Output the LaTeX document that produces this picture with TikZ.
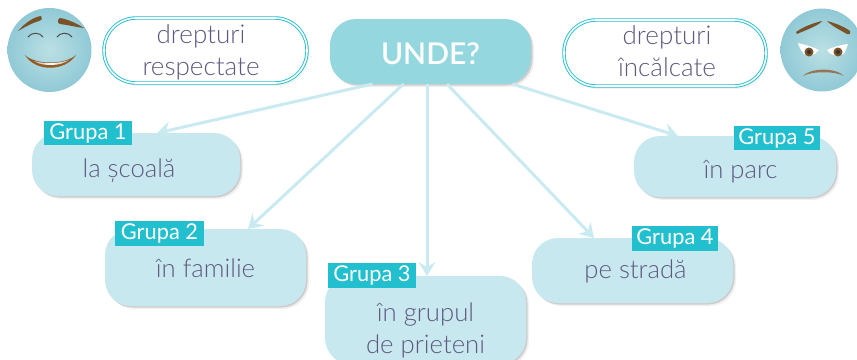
\documentclass[tikz,border=0pt]{standalone}
\usepackage{fontspec}
\setmainfont{Lato}[UprightFont=* Light,BoldFont=* Semibold]
\newfontfamily\tagfont{Lato}
\usetikzlibrary{arrows.meta,shadows,calc}
\definecolor{boxblue}{HTML}{C8E8EF}
\definecolor{hubblue}{HTML}{95D7DF}
\definecolor{tagteal}{HTML}{22BFCF}
\definecolor{inktext}{HTML}{5F5980}
\definecolor{linkblue}{HTML}{C8EAF0}
\definecolor{browbrown}{HTML}{7A5228}
\definecolor{faceout}{HTML}{90C9D6}
\definecolor{facein}{HTML}{BBE0E4}
\newcommand{\mv}[3][0]{\hspace*{#1pt}\raisebox{\dimexpr-#2pt\relax}[0pt][0pt]{\begin{tabular}{@{}c@{}}#3\end{tabular}}}
\newcommand{\tg}[1]{\raisebox{-3pt}{#1}}
\tikzset{
  softshadow/.style={
    general shadow={shadow xshift=3pt,shadow yshift=-3pt,fill=black,opacity=.06},
    general shadow={shadow xshift=1.5pt,shadow yshift=-1.5pt,fill=black,opacity=.14}},
  lightshadow/.style={
    general shadow={shadow xshift=2pt,shadow yshift=-3pt,fill=black,opacity=.05}},
  groupbox/.style={softshadow,fill=boxblue,rounded corners=26pt,inner sep=0pt,outer sep=0pt,
    text=inktext,font=\fontsize{25.7}{32}\selectfont},
  framebox/.style={lightshadow,fill=white,draw=tagteal,double=white,double distance=1.6pt,line width=.9pt,
    rounded corners=32pt,inner sep=0pt,outer sep=0pt,text=inktext,font=\fontsize{26}{31.5}\selectfont},
  hubbox/.style={softshadow,fill=hubblue,rounded corners=26pt,inner sep=0pt,outer sep=0pt,
    text=white,font=\fontsize{30}{32}\selectfont\bfseries},
  grouptag/.style={fill=tagteal,text=white,inner sep=0pt,outer sep=0pt,font=\tagfont\fontsize{21.8}{24}\selectfont},
  linkline/.style={draw=linkblue,line width=3pt,-{Stealth[length=14pt,width=17pt,inset=5pt]}},
  brow/.style={fill=browbrown,draw=none},
  lidline/.style={draw=black!70,line width=1pt,line cap=round}
}
\begin{document}
\begin{tikzpicture}[x=1pt,y=-1pt]
\useasboundingbox (0,0) rectangle (857,359);
% boxes
\node[hubbox,minimum width=201pt,minimum height=65pt] (hub) at (430.5,51.5) {\mv{12.5}{UNDE?}};
\node[framebox,minimum width=203pt,minimum height=65pt] (left) at (205.5,50.5) {\mv[-9]{9}{drepturi\\respectate}};
\node[framebox,minimum width=202pt,minimum height=66pt] (right) at (665,53) {\mv[4]{7.5}{drepturi\\încălcate}};
\node[groupbox,minimum width=208pt,minimum height=63pt] (g1) at (136,164.5) {\mv[-14]{13}{la școală}};
\node[groupbox,minimum width=201pt,minimum height=77pt] (g2) at (205.5,267.5) {\mv{10}{în familie}};
\node[groupbox,minimum width=201pt,minimum height=88pt] (g3) at (425.5,320) {\mv{17}{în grupul\\de prieteni}};
\node[groupbox,minimum width=201pt,minimum height=65pt] (g4) at (632.5,270.5) {\mv[6]{8}{pe stradă}};
\node[groupbox,minimum width=202pt,minimum height=61pt] (g5) at (735,166.5) {\mv[11]{12}{în parc}};
% connectors
\draw[linkline] ([xshift=-58pt]hub.south) -- ([xshift=21pt]g1.north);
\draw[linkline] ([xshift=-27pt]hub.south) -- ([xshift=42.5pt]g2.north);
\draw[linkline] ([xshift=-3.5pt]hub.south) -- ([xshift=1.5pt]g3.north);
\draw[linkline] ([xshift=16.5pt]hub.south) -- ([xshift=-38.5pt]g4.north);
\draw[linkline] ([xshift=82pt]hub.south) -- ([xshift=-57pt]g5.north);
% tags
\node[grouptag,minimum width=88pt,minimum height=24pt] (t1) at (88,133) {\tg{Grupa 1}};
\node[grouptag,minimum width=89pt,minimum height=25pt] (t2) at (159.5,233.5) {\tg{Grupa 2}};
\node[grouptag,minimum width=88pt,minimum height=25pt] (t3) at (372,275.5) {\tg{Grupa 3}};
\node[grouptag,minimum width=86pt,minimum height=25pt] (t4) at (675,238.5) {\tg{Grupa 4}};
\node[grouptag,minimum width=86pt,minimum height=24pt] (t5) at (777,138) {\tg{Grupa 5}};
% happy face
\shade[inner color=facein,outer color=faceout] (49.5,50) circle (42);
\fill[brow] (18,31) .. controls (26,22) and (34,17) .. (41,16) .. controls (43,18) and (42,20) .. (39,21) .. controls (32,23) and (25,27) .. (18,31) -- cycle;
\fill[brow] (84,28) .. controls (76,23) and (67,19) .. (60,18) .. controls (57,20) and (57,23) .. (60,24) .. controls (68,25) and (76,27) .. (84,28) -- cycle;
\draw[lidline] (28,37) .. controls (31,32) and (40,32) .. (43,37);
\draw[lidline] (57,37) .. controls (60,32) and (69,32) .. (72,37);
\fill[browbrown!80!orange] (25,55) .. controls (35,72) and (65,72) .. (76,55) .. controls (65,65) and (35,65) .. (25,55) -- cycle;
\shade[left color=gray!60,right color=gray!60,middle color=white] (34,61) .. controls (45,64) and (57,64) .. (69,60) .. controls (62,66) and (42,67) .. (34,61) -- cycle;
% sad face
\shade[inner color=facein,outer color=faceout] (822,50) circle (41.5);
\fill[brow] (796,32) .. controls (803,27) and (813,23) .. (822,21) .. controls (818,26) and (808,29) .. (797,34) -- cycle;
\fill[brow] (827,21) .. controls (835,23) and (845,27) .. (850,31) .. controls (851,33) and (850,35) .. (847,34) .. controls (840,30) and (832,26) .. (827,21) -- cycle;
\fill[white] (798,43) .. controls (806,45) and (813,47) .. (819,50) .. controls (815,56) and (806,58) .. (803,53) .. controls (801,50) and (799,47) .. (798,43) -- cycle;
\fill[white] (848,44) .. controls (840,45) and (833,47) .. (827,50) .. controls (830,56) and (841,58) .. (845,52) -- cycle;
\fill[browbrown] (809,52) circle (4.5);
\fill[browbrown] (838,52) circle (4.5);
\fill[black!80] (809,52) circle (2);
\fill[black!80] (838,52) circle (2);
\fill[browbrown!80] (803,76) .. controls (810,68) and (835,67) .. (844,76) .. controls (835,71) and (812,71) .. (803,76) -- cycle;
\end{tikzpicture}
\end{document}
